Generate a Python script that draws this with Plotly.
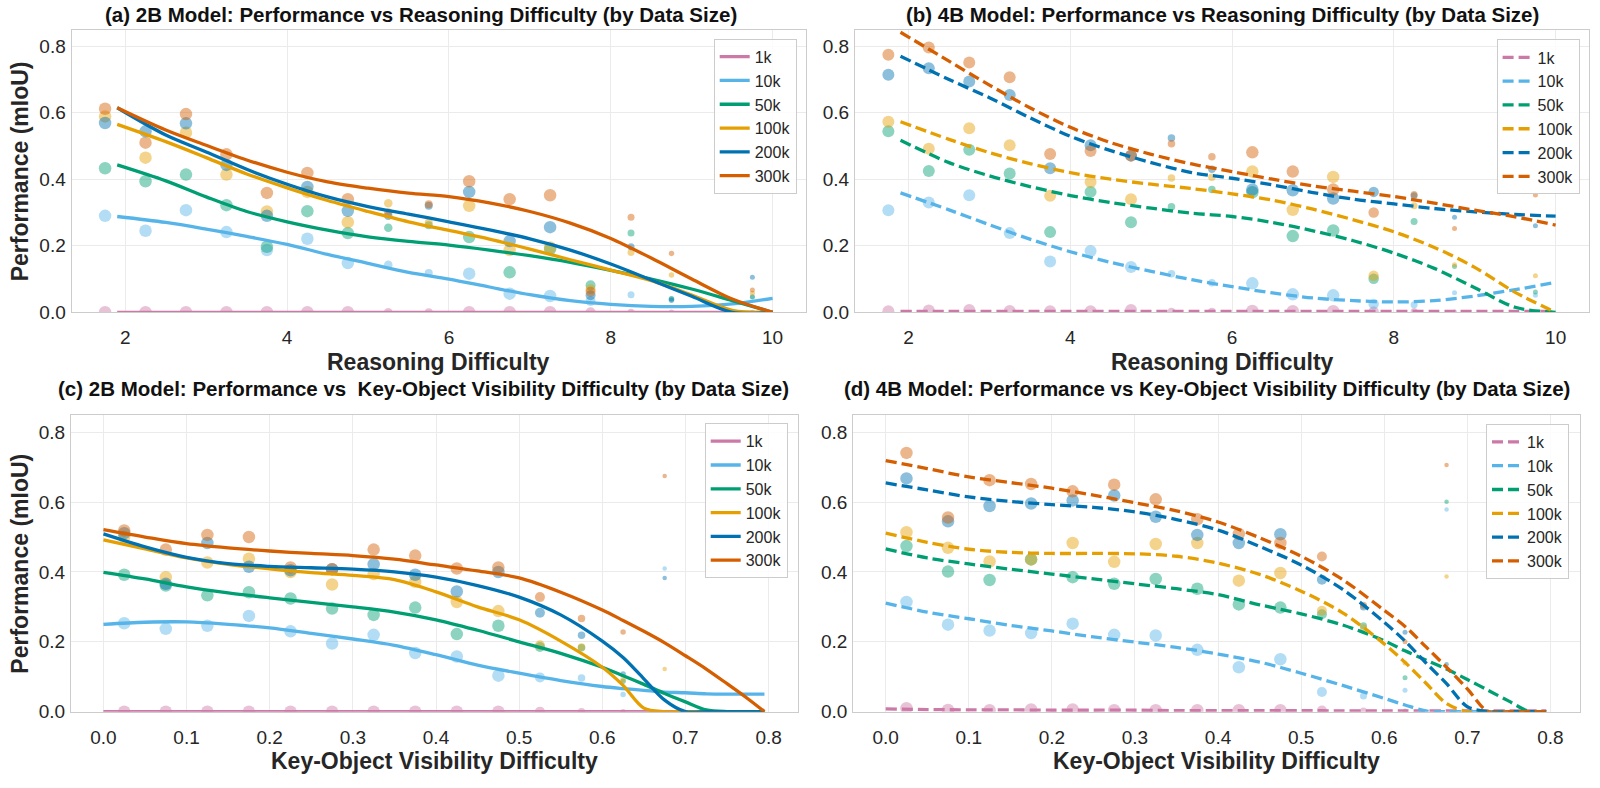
import plotly.graph_objects as go

# ---------------- data ----------------
series = ["1k", "10k", "50k", "100k", "200k", "300k"]
colors = ["#CC79A7", "#56B4E9", "#009E73", "#E69F00", "#0072B2", "#D55E00"]

# bin centres
bins_reason = [1.75, 2.25, 2.75, 3.25, 3.75, 4.25, 4.75, 5.25, 5.75, 6.25, 6.75, 7.25, 7.75, 8.25, 8.75, 9.75]
bins_vis = [0.025, 0.075, 0.125, 0.175, 0.225, 0.275, 0.325, 0.375, 0.425, 0.475, 0.525, 0.575, 0.625, 0.675]

# marker sizes per bin (sample count)
size_a = [12.5, 12.5, 12.5, 12.5, 12.5, 12.5, 12.5, 8.5, 8, 12.5, 12.5, 12.5, 10, 7, 5.5, 5]
size_b = [12, 12, 12, 12, 12, 12, 12, 7.5, 7.5, 12.5, 12.5, 12.5, 10.5, 7, 5, 5]
size_c = [12.5, 12.5, 12.5, 12.5, 12.5, 12.5, 12.5, 12.5, 12.5, 12.5, 10, 7.5, 5.5, 4.5]
size_d = [12.5, 12.5, 12.5, 12.5, 12.5, 12.5, 12.5, 12.5, 12.5, 12.5, 10, 7, 5, 4.5]

# (a) 2B, reasoning difficulty - binned points
pts_a_1k = [0.0] * 16
pts_a_10k = [0.290, 0.245, 0.307, 0.241, 0.187, 0.221, 0.148, 0.143, 0.118, 0.116, 0.056, 0.049, 0.034, 0.053, 0.040, 0.045]
pts_a_50k = [0.433, 0.394, 0.414, 0.322, 0.197, 0.304, 0.238, 0.254, 0.262, 0.226, 0.120, 0.190, 0.081, 0.238, 0.041, 0.047]
pts_a_100k = [0.589, 0.465, 0.540, 0.414, 0.303, 0.362, 0.271, 0.328, 0.270, 0.320, 0.187, 0.195, 0.069, 0.180, 0.112, 0.057]
pts_a_200k = [0.569, 0.544, 0.568, 0.443, 0.290, 0.377, 0.305, 0.290, 0.320, 0.362, 0.214, 0.256, 0.051, 0.197, 0.036, 0.105]
pts_a_300k = [0.612, 0.510, 0.596, 0.475, 0.359, 0.419, 0.340, 0.300, 0.325, 0.394, 0.340, 0.352, 0.062, 0.286, 0.177, 0.067]

# (b) 4B, reasoning difficulty - binned points
pts_b_1k = [0.003, 0.005, 0.007, 0.004, 0.003, 0.003, 0.007, 0.002, 0.002, 0.004, 0.003, 0.003, 0.002, 0.002, 0.001, 0.001]
pts_b_10k = [0.307, 0.330, 0.352, 0.238, 0.153, 0.184, 0.136, 0.116, 0.089, 0.087, 0.054, 0.051, 0.025, 0.023, 0.059, 0.051]
pts_b_50k = [0.544, 0.425, 0.489, 0.417, 0.241, 0.362, 0.271, 0.317, 0.369, 0.361, 0.229, 0.246, 0.101, 0.273, 0.138, 0.061]
pts_b_100k = [0.573, 0.492, 0.553, 0.502, 0.350, 0.392, 0.340, 0.404, 0.406, 0.423, 0.308, 0.407, 0.110, 0.320, 0.143, 0.110]
pts_b_200k = [0.714, 0.734, 0.694, 0.653, 0.433, 0.502, 0.471, 0.524, 0.430, 0.369, 0.367, 0.342, 0.362, 0.350, 0.286, 0.260]
pts_b_300k = [0.774, 0.796, 0.751, 0.707, 0.476, 0.485, 0.471, 0.507, 0.468, 0.481, 0.423, 0.369, 0.300, 0.354, 0.252, 0.353]

# (c) 2B, visibility difficulty - binned points
pts_c_1k = [0.0] * 13 + [None]
pts_c_10k = [0.253, 0.237, 0.246, 0.274, 0.230, 0.195, 0.220, 0.168, 0.158, 0.103, 0.098, 0.096, 0.049, 0.410]
pts_c_50k = [0.392, 0.361, 0.333, 0.342, 0.324, 0.295, 0.277, 0.298, 0.222, 0.246, 0.185, 0.183, 0.087, None]
pts_c_100k = [0.500, 0.385, 0.427, 0.438, 0.400, 0.364, 0.394, 0.372, 0.314, 0.288, 0.190, 0.185, 0.092, 0.122]
pts_c_200k = [0.511, 0.366, 0.483, 0.415, 0.405, 0.408, 0.422, 0.392, 0.344, 0.400, 0.283, 0.219, 0.108, 0.383]
pts_c_300k = [0.519, 0.464, 0.506, 0.500, 0.413, 0.408, 0.464, 0.447, 0.410, 0.413, 0.328, 0.267, 0.228, 0.675]

# (d) 4B, visibility difficulty - binned points
pts_d_1k = [0.010, 0.005, 0.004, 0.006, 0.006, 0.004, 0.004, 0.004, 0.004, 0.004, 0.003, 0.002, 0.002, None]
pts_d_10k = [0.314, 0.249, 0.232, 0.225, 0.252, 0.220, 0.218, 0.177, 0.127, 0.150, 0.056, 0.045, 0.061, 0.579]
pts_d_50k = [0.474, 0.401, 0.377, 0.436, 0.385, 0.366, 0.380, 0.352, 0.307, 0.298, 0.279, 0.246, 0.097, 0.601]
pts_d_100k = [0.514, 0.469, 0.430, 0.436, 0.483, 0.429, 0.480, 0.483, 0.375, 0.397, 0.289, 0.240, 0.139, 0.387]
pts_d_200k = [0.668, 0.545, 0.589, 0.596, 0.605, 0.619, 0.558, 0.506, 0.483, 0.508, 0.378, 0.300, 0.227, 0.136]
pts_d_300k = [0.741, 0.556, 0.663, 0.652, 0.631, 0.650, 0.608, 0.551, 0.509, 0.483, 0.444, 0.305, 0.200, 0.706]

# fitted curves (values at knot positions)
knots_reason = [1.9, 2.5, 3.0, 3.5, 4.0, 4.5, 5.0, 5.5, 6.0, 6.5, 7.0, 7.5, 8.0, 8.5, 9.0, 9.5, 10.0]
fit_a_1k = [0.0] * 17
fit_a_10k = [0.288, 0.270, 0.250, 0.228, 0.204, 0.174, 0.147, 0.120, 0.100, 0.076, 0.053, 0.035, 0.024, 0.018, 0.018, 0.025, 0.042]
fit_a_50k = [0.443, 0.395, 0.347, 0.303, 0.272, 0.247, 0.227, 0.213, 0.202, 0.187, 0.170, 0.150, 0.126, 0.100, 0.070, 0.035, 0.0]
fit_a_100k = [0.565, 0.513, 0.465, 0.416, 0.374, 0.336, 0.303, 0.272, 0.246, 0.220, 0.190, 0.158, 0.127, 0.095, 0.052, 0.006, 0.0]
fit_a_200k = [0.615, 0.533, 0.482, 0.430, 0.385, 0.347, 0.318, 0.295, 0.272, 0.248, 0.221, 0.187, 0.145, 0.097, 0.048, 0.0, 0.0]
fit_a_300k = [0.615, 0.548, 0.502, 0.458, 0.421, 0.392, 0.373, 0.358, 0.348, 0.329, 0.303, 0.268, 0.222, 0.163, 0.100, 0.040, 0.0]

fit_b_1k = [0.003] * 17
fit_b_10k = [0.359, 0.308, 0.263, 0.220, 0.182, 0.150, 0.123, 0.098, 0.077, 0.058, 0.043, 0.035, 0.031, 0.035, 0.049, 0.068, 0.090]
fit_b_50k = [0.517, 0.450, 0.410, 0.378, 0.351, 0.330, 0.313, 0.298, 0.288, 0.270, 0.245, 0.215, 0.178, 0.132, 0.074, 0.015, 0.0]
fit_b_100k = [0.573, 0.520, 0.480, 0.447, 0.420, 0.400, 0.385, 0.372, 0.356, 0.337, 0.310, 0.278, 0.242, 0.195, 0.135, 0.060, 0.0]
fit_b_200k = [0.770, 0.700, 0.645, 0.585, 0.529, 0.486, 0.450, 0.420, 0.403, 0.383, 0.360, 0.340, 0.326, 0.312, 0.302, 0.294, 0.289]
fit_b_300k = [0.842, 0.755, 0.683, 0.615, 0.556, 0.510, 0.475, 0.446, 0.423, 0.400, 0.380, 0.364, 0.348, 0.328, 0.307, 0.287, 0.262]

knots_vis = [0.0, 0.05, 0.1, 0.15, 0.2, 0.25, 0.3, 0.35, 0.4, 0.45, 0.5, 0.55, 0.6, 0.625, 0.65, 0.675, 0.7, 0.725, 0.75, 0.775, 0.795]
fit_c_1k = [0.0] * 21
fit_c_10k = [0.250, 0.256, 0.257, 0.250, 0.240, 0.224, 0.208, 0.190, 0.163, 0.133, 0.110, 0.089, 0.072, 0.066, 0.061, 0.056, 0.054, 0.051, 0.050, 0.050, 0.050]
fit_c_50k = [0.399, 0.380, 0.357, 0.340, 0.326, 0.313, 0.300, 0.285, 0.263, 0.233, 0.200, 0.167, 0.127, 0.103, 0.078, 0.052, 0.028, 0.005, 0.0, 0.0, 0.0]
fit_c_100k = [0.492, 0.466, 0.440, 0.422, 0.409, 0.398, 0.390, 0.378, 0.343, 0.300, 0.263, 0.202, 0.127, 0.075, 0.010, 0.0, 0.0, 0.0, 0.0, 0.0, 0.0]
fit_c_200k = [0.509, 0.472, 0.442, 0.424, 0.416, 0.412, 0.408, 0.400, 0.385, 0.361, 0.328, 0.277, 0.202, 0.155, 0.094, 0.033, 0.0, 0.0, 0.0, 0.0, 0.0]
fit_c_300k = [0.521, 0.500, 0.481, 0.469, 0.460, 0.453, 0.447, 0.437, 0.420, 0.403, 0.383, 0.342, 0.291, 0.261, 0.230, 0.197, 0.160, 0.122, 0.080, 0.037, 0.0]

fit_d_1k = [0.008, 0.006, 0.005, 0.005, 0.004, 0.004, 0.004, 0.003, 0.003, 0.003, 0.003, 0.002, 0.002, 0.002, 0.002, 0.002, 0.002, 0.002, 0.002, 0.002, 0.002]
fit_d_10k = [0.311, 0.285, 0.266, 0.247, 0.231, 0.214, 0.199, 0.184, 0.165, 0.142, 0.110, 0.075, 0.038, 0.019, 0.002, 0.0, 0.0, 0.0, 0.0, 0.0, 0.0]
fit_d_50k = [0.466, 0.440, 0.423, 0.408, 0.394, 0.380, 0.366, 0.352, 0.335, 0.306, 0.280, 0.248, 0.203, 0.174, 0.148, 0.122, 0.092, 0.061, 0.030, 0.0, 0.0]
fit_d_100k = [0.511, 0.485, 0.465, 0.456, 0.453, 0.453, 0.452, 0.445, 0.425, 0.393, 0.345, 0.283, 0.194, 0.141, 0.082, 0.023, 0.0, 0.0, 0.0, 0.0, 0.0]
fit_d_200k = [0.655, 0.635, 0.615, 0.602, 0.593, 0.585, 0.572, 0.550, 0.520, 0.473, 0.420, 0.350, 0.256, 0.202, 0.140, 0.080, 0.014, 0.0, 0.0, 0.0, 0.0]
fit_d_300k = [0.719, 0.696, 0.672, 0.656, 0.640, 0.620, 0.598, 0.575, 0.543, 0.498, 0.445, 0.378, 0.290, 0.244, 0.186, 0.127, 0.065, 0.0, 0.0, 0.0, 0.0]

titles = [
    "(a) 2B Model: Performance vs Reasoning Difficulty (by Data Size)",
    "(b) 4B Model: Performance vs Reasoning Difficulty (by Data Size)",
    "(c) 2B Model: Performance vs  Key-Object Visibility Difficulty (by Data Size)",
    "(d) 4B Model: Performance vs Key-Object Visibility Difficulty (by Data Size)",
]
xlabels = ["Reasoning Difficulty", "Reasoning Difficulty",
           "Key-Object Visibility Difficulty", "Key-Object Visibility Difficulty"]
ylabel = "Performance (mIoU)"

panels = [
    dict(bins=bins_reason, sizes=size_a, knots=knots_reason, dash="solid",
         pts=[pts_a_1k, pts_a_10k, pts_a_50k, pts_a_100k, pts_a_200k, pts_a_300k],
         fits=[fit_a_1k, fit_a_10k, fit_a_50k, fit_a_100k, fit_a_200k, fit_a_300k]),
    dict(bins=bins_reason, sizes=size_b, knots=knots_reason, dash="11px,5px",
         pts=[pts_b_1k, pts_b_10k, pts_b_50k, pts_b_100k, pts_b_200k, pts_b_300k],
         fits=[fit_b_1k, fit_b_10k, fit_b_50k, fit_b_100k, fit_b_200k, fit_b_300k]),
    dict(bins=bins_vis, sizes=size_c, knots=knots_vis, dash="solid",
         pts=[pts_c_1k, pts_c_10k, pts_c_50k, pts_c_100k, pts_c_200k, pts_c_300k],
         fits=[fit_c_1k, fit_c_10k, fit_c_50k, fit_c_100k, fit_c_200k, fit_c_300k]),
    dict(bins=bins_vis, sizes=size_d, knots=knots_vis, dash="11px,5px",
         pts=[pts_d_1k, pts_d_10k, pts_d_50k, pts_d_100k, pts_d_200k, pts_d_300k],
         fits=[fit_d_1k, fit_d_10k, fit_d_50k, fit_d_100k, fit_d_200k, fit_d_300k]),
]

# ---------------- layout geometry (pixels in 1600x788) ----------------
W, H = 1600, 788
dom_px = [  # left, right, top, bottom
    (71.7, 806.0, 30.0, 316.7),
    (855.0, 1589.0, 30.0, 316.7),
    (71.0, 797.7, 420.7, 721.7),
    (853.3, 1579.5, 420.7, 721.7),
]
xranges = [[1.3375, 10.4125], [1.3375, 10.4125], [-0.039, 0.835], [-0.039, 0.835]]
legend_px = [(796.7, 39.3), (1579.6, 40.0), (787.7, 429.3), (1569.0, 430.0)]
title_px = [(421, 15), (1222, 15), (423.5, 393.5), (1207, 393.5)]
xlabel_py = [367, 367, 772, 772]

FONT = "Liberation Sans"
TXT = "#262626"

fig = go.Figure()
for i, p in enumerate(panels):
    xa = "x" if i == 0 else f"x{i+1}"
    ya = "y" if i == 0 else f"y{i+1}"
    lg = "legend" if i == 0 else f"legend{i+1}"
    # scatter points
    for s, c, vals in zip(series, colors, p["pts"]):
        fig.add_trace(go.Scatter(
            x=p["bins"], y=vals, mode="markers", xaxis=xa, yaxis=ya,
            marker=dict(color=c, size=p["sizes"], opacity=0.45, line=dict(width=0)),
            showlegend=False, hoverinfo="skip"))
    # fitted curves
    for s, c, vals in zip(series, colors, p["fits"]):
        fig.add_trace(go.Scatter(
            x=p["knots"], y=vals, mode="lines", xaxis=xa, yaxis=ya, name=s, legend=lg,
            line=dict(color=c, width=3.3, dash=p["dash"], shape="spline", smoothing=0.9),
            showlegend=True))

layout = dict(
    width=W, height=H, margin=dict(l=0, r=0, t=0, b=0),
    paper_bgcolor="white", plot_bgcolor="white",
    font=dict(family=FONT, color=TXT, size=19),
    annotations=[],
)
for i in range(4):
    l, r, t, b = dom_px[i]
    sfx = "" if i == 0 else str(i + 1)
    is_vis = i >= 2
    layout["xaxis" + sfx] = dict(
        domain=[l / W, r / W], range=xranges[i], anchor="y" + sfx,
        tickvals=[0.0, 0.1, 0.2, 0.3, 0.4, 0.5, 0.6, 0.7, 0.8] if is_vis else [2, 4, 6, 8, 10],
        ticktext=["0.0", "0.1", "0.2", "0.3", "0.4", "0.5", "0.6", "0.7", "0.8"] if is_vis else ["2", "4", "6", "8", "10"],
        showgrid=True, gridcolor="#ebebeb", gridwidth=1, zeroline=False,
        showline=True, linecolor="#cccccc", linewidth=1.3, mirror=True,
        ticks="outside", ticklen=8, tickcolor="rgba(0,0,0,0)",
        tickfont=dict(family=FONT, size=19, color=TXT),
    )
    layout["yaxis" + sfx] = dict(
        domain=[1 - b / H, 1 - t / H], range=[0, 0.85], anchor="x" + sfx,
        tickvals=[0, 0.2, 0.4, 0.6, 0.8], ticktext=["0.0", "0.2", "0.4", "0.6", "0.8"],
        showgrid=True, gridcolor="#ebebeb", gridwidth=1, zeroline=False,
        showline=True, linecolor="#cccccc", linewidth=1.3, mirror=True,
        ticks="outside", ticklen=1, tickcolor="rgba(0,0,0,0)",
        tickfont=dict(family=FONT, size=19, color=TXT),
    )
    lx, ly = legend_px[i]
    layout["legend" + sfx] = dict(
        x=lx / W, y=1 - ly / H, xanchor="right", yanchor="top",
        xref="paper", yref="paper",
        bgcolor="rgba(255,255,255,0.85)", bordercolor="#cccccc", borderwidth=1,
        font=dict(family=FONT, size=16, color=TXT), itemwidth=30,
    )
    tx, ty = title_px[i]
    layout["annotations"].append(dict(
        text=titles[i], x=tx / W, y=1 - ty / H, xref="paper", yref="paper",
        xanchor="center", yanchor="middle", showarrow=False,
        font=dict(family=FONT, size=20.5, color="#111111", weight="bold")))
    layout["annotations"].append(dict(
        text=xlabels[i], x=(l + r) / 2 / W, y=1 - xlabel_py[i] / H, xref="paper", yref="paper",
        xanchor="center", yanchor="middle", showarrow=False,
        font=dict(family=FONT, size=23, color=TXT, weight="bold")))
    if i in (0, 2):
        layout["annotations"].append(dict(
            text=ylabel, x=20.4 / W, y=1 - (t + b) / 2 / H, xref="paper", yref="paper",
            xanchor="center", yanchor="middle", showarrow=False, textangle=-90,
            font=dict(family=FONT, size=23, color=TXT, weight="bold")))

fig.update_layout(**layout)
fig.write_html("out.html")
